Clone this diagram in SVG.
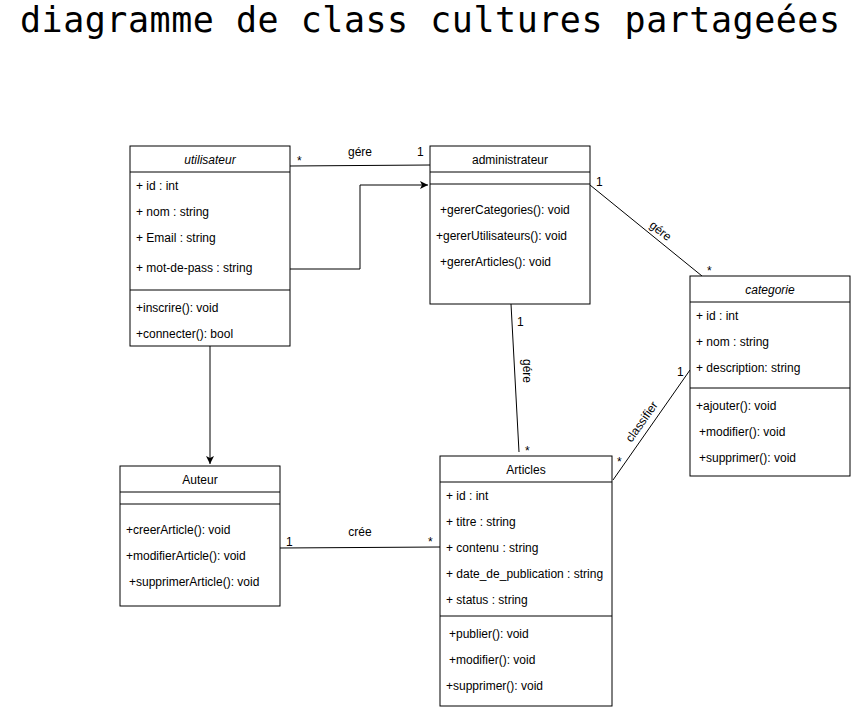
<svg xmlns="http://www.w3.org/2000/svg" width="860" height="707" viewBox="0 0 860 707">
<style>
.box{fill:#fff;stroke:#000;stroke-width:1}
.ln{stroke:#000;stroke-width:1;fill:none}
.t{font-family:"Liberation Sans",Arial,sans-serif;font-size:12px;fill:#000}
.c{text-anchor:middle}
.i{font-style:italic}
.title{font-family:"DejaVu Sans Mono","Liberation Mono",monospace;font-size:35px;fill:#000}
</style>
<defs>
<marker id="arr" markerWidth="10" markerHeight="10" refX="8" refY="4" orient="auto" markerUnits="userSpaceOnUse">
<path d="M0,0 L8,4 L0,8 L2,4 Z" fill="#000"/>
</marker>
</defs>
<rect width="860" height="707" fill="#fff"/>
<text class="title" x="430" y="32" text-anchor="middle" textLength="820">diagramme de class cultures partageées</text>

<g id="connectors">
<line class="ln" x1="290" y1="166" x2="430" y2="165"/>
<text class="t" x="297" y="165">*</text>
<text class="t c" x="360" y="156">gére</text>
<text class="t" x="417" y="156">1</text>

<polyline class="ln" points="290,269 360,269 360,185 428,185" marker-end="url(#arr)"/>

<line class="ln" x1="590" y1="185" x2="702" y2="276"/>
<text class="t" x="596" y="186">1</text>
<text class="t c" transform="translate(658,234) rotate(38.8)">gére</text>
<text class="t" x="707" y="275">*</text>

<line class="ln" x1="511" y1="304" x2="519" y2="452"/>
<text class="t" x="517" y="326">1</text>
<text class="t c" transform="translate(523,371) rotate(90)">gére</text>
<text class="t" x="525" y="455">*</text>

<line class="ln" x1="613" y1="480" x2="690" y2="370"/>
<text class="t" x="617" y="466">*</text>
<text class="t c" transform="translate(645,424) rotate(-55)">classifier</text>
<text class="t" x="677" y="376">1</text>

<line class="ln" x1="210" y1="346" x2="210" y2="464" marker-end="url(#arr)"/>

<line class="ln" x1="280" y1="548" x2="440" y2="547"/>
<text class="t" x="286" y="546">1</text>
<text class="t c" x="360" y="536">crée</text>
<text class="t" x="428" y="546">*</text>
</g>

<g id="utilisateur">
<rect class="box" x="130" y="146" width="160" height="200"/>
<line class="ln" x1="130" y1="172" x2="290" y2="172"/>
<line class="ln" x1="130" y1="290" x2="290" y2="290"/>
<text class="t c i" x="210" y="164">utilisateur</text>
<text class="t" x="136" y="190">+ id : int</text>
<text class="t" x="136" y="216">+ nom : string</text>
<text class="t" x="136" y="242">+ Email : string</text>
<text class="t" x="136" y="272">+ mot-de-pass : string</text>
<text class="t" x="136" y="312">+inscrire(): void</text>
<text class="t" x="136" y="338">+connecter(): bool</text>
</g>

<g id="administrateur">
<rect class="box" x="430" y="146" width="160" height="158"/>
<line class="ln" x1="430" y1="172" x2="590" y2="172"/>
<line class="ln" x1="430" y1="184" x2="590" y2="184"/>
<text class="t c" x="510" y="164">administrateur</text>
<text class="t" x="440" y="214">+gererCategories(): void</text>
<text class="t" x="436" y="240">+gererUtilisateurs(): void</text>
<text class="t" x="440" y="266">+gererArticles(): void</text>
</g>

<g id="categorie">
<rect class="box" x="690" y="276" width="160" height="200"/>
<line class="ln" x1="690" y1="302" x2="850" y2="302"/>
<line class="ln" x1="690" y1="388" x2="850" y2="388"/>
<text class="t c i" x="770" y="294">categorie</text>
<text class="t" x="696" y="320">+ id : int</text>
<text class="t" x="696" y="346">+ nom : string</text>
<text class="t" x="696" y="372">+ description: string</text>
<text class="t" x="696" y="410">+ajouter(): void</text>
<text class="t" x="699" y="436">+modifier(): void</text>
<text class="t" x="699" y="462">+supprimer(): void</text>
</g>

<g id="auteur">
<rect class="box" x="120" y="466" width="160" height="140"/>
<line class="ln" x1="120" y1="492" x2="280" y2="492"/>
<line class="ln" x1="120" y1="504" x2="280" y2="504"/>
<text class="t c" x="200" y="484">Auteur</text>
<text class="t" x="126" y="534">+creerArticle(): void</text>
<text class="t" x="126" y="560">+modifierArticle(): void</text>
<text class="t" x="129" y="586">+supprimerArticle(): void</text>
</g>

<g id="articles">
<rect class="box" x="440" y="456" width="172" height="250"/>
<line class="ln" x1="440" y1="482" x2="612" y2="482"/>
<line class="ln" x1="440" y1="616" x2="612" y2="616"/>
<text class="t c" x="526" y="474">Articles</text>
<text class="t" x="446" y="500">+ id : int</text>
<text class="t" x="446" y="526">+ titre : string</text>
<text class="t" x="446" y="552">+ contenu : string</text>
<text class="t" x="446" y="578">+ date_de_publication : string</text>
<text class="t" x="446" y="604">+ status : string</text>
<text class="t" x="449" y="638">+publier(): void</text>
<text class="t" x="449" y="664">+modifier(): void</text>
<text class="t" x="446" y="690">+supprimer(): void</text>
</g>
</svg>
